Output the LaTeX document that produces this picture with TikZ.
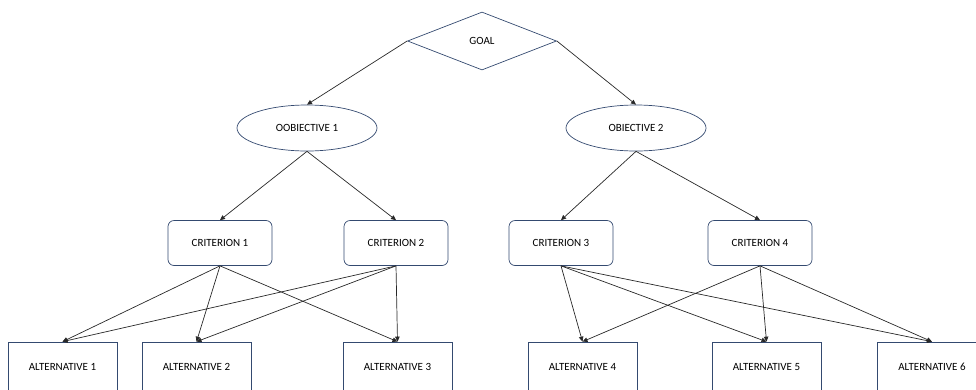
\documentclass[tikz,border=0pt]{standalone}
\usepackage{fontspec}
\setmainfont{Carlito}
\definecolor{shapeblue}{RGB}{52, 74, 112}
\definecolor{linegray}{RGB}{40, 40, 40}
\usepackage{tikz}
\usetikzlibrary{shapes.geometric, arrows.meta, positioning}

\begin{document}
\begin{tikzpicture}[x=1pt, y=-1pt,
  font=\fontsize{11}{13}\selectfont,
  goalbox/.style={diamond, draw=shapeblue, line width=0.7pt, inner sep=0pt, minimum width=149pt, minimum height=58pt},
  objbox/.style={ellipse, draw=shapeblue, line width=0.7pt, inner sep=0pt, minimum width=140pt, minimum height=46pt},
  critbox/.style={rectangle, draw=shapeblue, line width=0.7pt, rounded corners=6pt, minimum width=104pt, minimum height=45pt},
  altbox/.style={rectangle, draw=shapeblue, line width=0.7pt, minimum width=109pt, minimum height=50pt},
  link/.style={draw=linegray, line width=0.7pt, -{Triangle[length=5pt, width=4.5pt]}}]
  \useasboundingbox (0,0) rectangle (976,389);

  % Goal
  \node[goalbox] (goal) at (482, 41) {GOAL};

  % Objectives
  \node[objbox] (obj1) at (307, 128) {OOBIECTIVE 1};
  \node[objbox] (obj2) at (636, 128) {OBIECTIVE 2};

  % Criteria
  \node[critbox] (crit1) at (220, 243) {CRITERION 1};
  \node[critbox] (crit2) at (396, 243) {CRITERION 2};
  \node[critbox] (crit3) at (561, 243) {CRITERION 3};
  \node[critbox] (crit4) at (760, 243) {CRITERION 4};

  % Alternatives
  \node[altbox] (alt1) at (62.5, 367) {ALTERNATIVE 1};
  \node[altbox] (alt2) at (196.5, 367) {ALTERNATIVE 2};
  \node[altbox] (alt3) at (397.5, 367) {ALTERNATIVE 3};
  \node[altbox] (alt4) at (582.5, 367) {ALTERNATIVE 4};
  \node[altbox] (alt5) at (766.5, 367) {ALTERNATIVE 5};
  \node[altbox] (alt6) at (932, 367) {ALTERNATIVE 6};

  % Goal to objectives
  \draw[link] (goal.west) -- (obj1.north);
  \draw[link] (goal.east) -- (obj2.north);

  % Objectives to criteria
  \draw[link] (obj1.south) -- (crit1.north);
  \draw[link] (obj1.south) -- (crit2.north);
  \draw[link] (obj2.south) -- (crit3.north);
  \draw[link] (obj2.south) -- (crit4.north);

  % Criteria to alternatives
  \foreach \c in {crit1, crit2}
    \foreach \a in {alt1, alt2, alt3}
      \draw[link] (\c.south) -- (\a.north);
  \foreach \c in {crit3, crit4}
    \foreach \a in {alt4, alt5, alt6}
      \draw[link] (\c.south) -- (\a.north);
\end{tikzpicture}
\end{document}
